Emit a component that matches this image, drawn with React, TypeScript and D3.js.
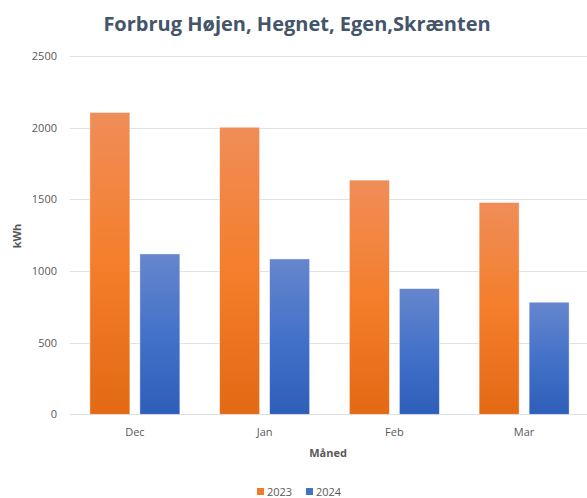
import { useEffect, useRef } from "react";
import * as d3 from "d3";

const months = ["Dec", "Jan", "Feb", "Mar"];
const series = ["2023", "2024"];
const values2023 = [2106, 2003, 1634, 1478];
const values2024 = [1119, 1084, 877, 782];
const yTicks = [0, 500, 1000, 1500, 2000, 2500];

const W = 587;
const H = 498;
const margin = { top: 56, right: -2, bottom: 84, left: 70 };
const FONT = "'Open Sans', 'Liberation Sans', sans-serif";

export default function App() {
  const svgRef = useRef<SVGSVGElement | null>(null);

  useEffect(() => {
    if (!svgRef.current) return;
    const svg = d3.select(svgRef.current);
    svg.selectAll("*").remove();

    const x0 = margin.left;
    const x1 = W - margin.right;
    const yBottom = H - margin.bottom + 0.3;
    const yTop = margin.top;

    const defs = svg.append("defs");
    const grads = [
      { id: "g2023", stops: ["#F08D58", "#F47E2B", "#E36914"] },
      { id: "g2024", stops: ["#6686CD", "#4472C9", "#2D5EB9"] },
    ];
    grads.forEach((g) => {
      const lg = defs
        .append("linearGradient")
        .attr("id", g.id)
        .attr("x1", 0)
        .attr("y1", 0)
        .attr("x2", 0)
        .attr("y2", 1);
      lg.append("stop").attr("offset", "0%").attr("stop-color", g.stops[0]);
      lg.append("stop").attr("offset", "50%").attr("stop-color", g.stops[1]);
      lg.append("stop").attr("offset", "100%").attr("stop-color", g.stops[2]);
    });

    const xScale = d3
      .scaleBand()
      .domain(months)
      .range([x0, x1])
      .paddingInner(0)
      .paddingOuter(0);

    const xInner = d3
      .scaleBand()
      .domain(series)
      .range([0, 90])
      .paddingInner(0.2);

    const yScale = d3.scaleLinear().domain([0, 2500]).range([yBottom, yTop]);

    // gridlines
    svg
      .append("g")
      .selectAll("line")
      .data(yTicks)
      .enter()
      .append("line")
      .attr("x1", x0)
      .attr("x2", x1)
      .attr("y1", (d) => Math.round(yScale(d)) + 0.5)
      .attr("y2", (d) => Math.round(yScale(d)) + 0.5)
      .attr("stroke", "#DDE1E8")
      .attr("stroke-width", 1);

    // y tick labels
    svg
      .append("g")
      .selectAll("text")
      .data(yTicks)
      .enter()
      .append("text")
      .attr("x", 57)
      .attr("y", (d) => yScale(d) + 4)
      .attr("text-anchor", "end")
      .attr("font-family", FONT)
      .attr("font-size", 11)
      .attr("fill", "#595959")
      .text((d) => d);

    // bars
    const data = months.map((m, i) => ({
      month: m,
      vals: [
        { s: "2023", v: values2023[i] },
        { s: "2024", v: values2024[i] },
      ],
    }));
    const groups = svg
      .append("g")
      .selectAll("g")
      .data(data)
      .enter()
      .append("g")
      .attr(
        "transform",
        (d) => `translate(${(xScale(d.month) as number) + (xScale.bandwidth() - 90) / 2},0)`
      );
    groups
      .selectAll("rect")
      .data((d) => d.vals)
      .enter()
      .append("rect")
      .attr("x", (d) => xInner(d.s) as number)
      .attr("y", (d) => yScale(d.v))
      .attr("width", xInner.bandwidth())
      .attr("height", (d) => yBottom - yScale(d.v))
      .attr("fill", (d) => `url(#g${d.s})`)
      .attr("stroke", "rgba(255,255,255,0.55)")
      .attr("stroke-width", 0.8);

    // x labels
    svg
      .append("g")
      .selectAll("text")
      .data(months)
      .enter()
      .append("text")
      .attr("x", (d) => (xScale(d) as number) + xScale.bandwidth() / 2)
      .attr("y", 436)
      .attr("text-anchor", "middle")
      .attr("font-family", FONT)
      .attr("font-size", 11)
      .attr("fill", "#595959")
      .text((d) => d);

    // axis titles
    svg
      .append("text")
      .attr("x", 328)
      .attr("y", 457)
      .attr("text-anchor", "middle")
      .attr("font-family", FONT)
      .attr("font-size", 11)
      .attr("font-weight", "bold")
      .attr("fill", "#595959")
      .text("Måned");

    svg
      .append("text")
      .attr("transform", "translate(21,236) rotate(-90)")
      .attr("text-anchor", "middle")
      .attr("font-family", FONT)
      .attr("font-size", 11)
      .attr("font-weight", "bold")
      .attr("fill", "#595959")
      .text("kWh");

    // title
    svg
      .append("text")
      .attr("x", 297)
      .attr("y", 31)
      .attr("text-anchor", "middle")
      .attr("font-family", FONT)
      .attr("font-size", 20)
      .attr("font-weight", "bold")
      .attr("fill", "#44546A")
      .text("Forbrug Højen, Hegnet, Egen,Skrænten");

    // legend
    const legend = svg.append("g");
    const legendItems = [
      { s: "2023", color: "#EF7B26", x: 257 },
      { s: "2024", color: "#4472C4", x: 306 },
    ];
    legendItems.forEach((it) => {
      legend
        .append("rect")
        .attr("x", it.x)
        .attr("y", 488)
        .attr("width", 7)
        .attr("height", 7)
        .attr("fill", it.color);
      legend
        .append("text")
        .attr("x", it.x + 10)
        .attr("y", 496)
        .attr("font-family", FONT)
        .attr("font-size", 11)
        .attr("fill", "#595959")
        .text(it.s);
    });
  }, []);

  return (
    <svg
      ref={svgRef}
      width={W}
      height={H}
      style={{ position: "absolute", left: 0, top: 0, background: "#fff" }}
    />
  );
}
